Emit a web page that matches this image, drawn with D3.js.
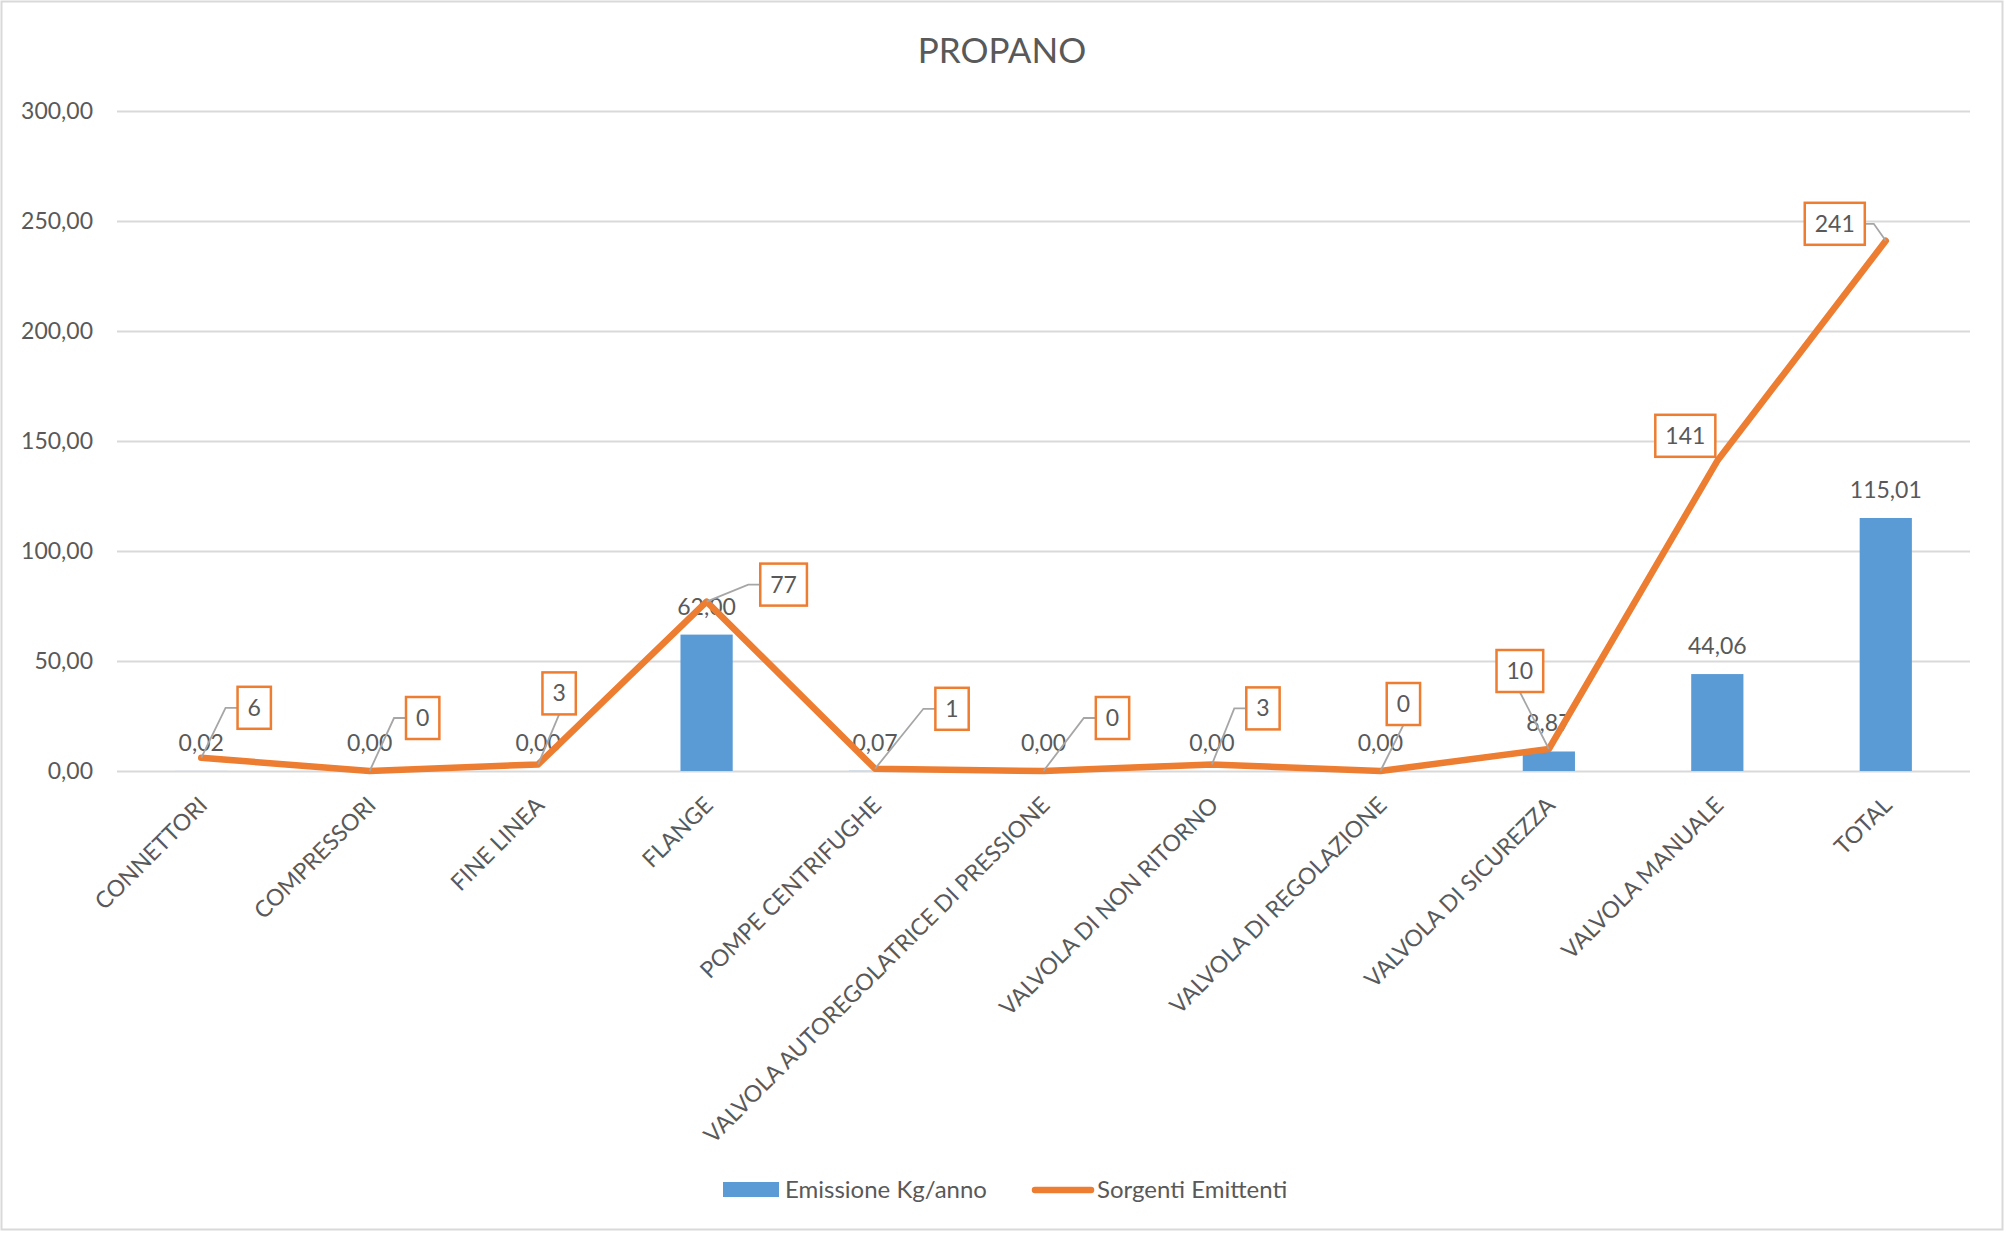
<!DOCTYPE html>
<html>
<head>
<meta charset="utf-8">
<script src="https://cdn.jsdelivr.net/npm/d3@7"></script>
<style>
  body { margin: 0; background: #fff; }
  text { font-family: Lato, "Open Sans", sans-serif; fill: #595959; }
</style>
</head>
<body>
<script>
const categories = ["CONNETTORI", "COMPRESSORI", "FINE LINEA", "FLANGE", "POMPE CENTRIFUGHE",
    "VALVOLA AUTOREGOLATRICE DI PRESSIONE", "VALVOLA DI NON RITORNO", "VALVOLA DI REGOLAZIONE",
    "VALVOLA DI SICUREZZA", "VALVOLA MANUALE", "TOTAL"];
const emissione = [0.02, 0.00, 0.00, 62.00, 0.07, 0.00, 0.00, 0.00, 8.87, 44.06, 115.01];
const sorgenti = [6, 0, 3, 77, 1, 0, 3, 0, 10, 141, 241];
const yTicks = [0, 50, 100, 150, 200, 250, 300];
const seriesNames = ["Emissione Kg/anno", "Sorgenti Emittenti"];

// where excel put the boxed labels of the line, relative to each point (px)
const boxOffsets = [[53, -50], [53, -53], [21, -71], [77, -17], [77, -60], [69, -53],
    [51, -56], [23, -67], [-29, -78], [-32, -25], [-51, -17]];

let w = 2006, h = 1234;
let blue = "#5B9BD5", orange = "#ED7D31";

const it = d3.formatLocale({decimal: ",", thousands: ".", grouping: [3], currency: ["", "€"]});
const fmt2 = it.format(".2f");

const svg = d3.select("body").append("svg")
    .attr("width", w)
    .attr("height", h);

// chart border
svg.append("rect")
    .attr("x", 1.5).attr("y", 1.5)
    .attr("width", w - 5).attr("height", h - 6)
    .attr("fill", "white")
    .attr("stroke", "#D9D9D9")
    .attr("stroke-width", 2);

const xScale = d3.scaleBand()
    .domain(categories)
    .range([117, 1970])
    .paddingInner(0.69)
    .paddingOuter(0.345);

const yScale = d3.scaleLinear()
    .domain([0, 300])
    .range([771, 111]);

const cx = (d) => xScale(d) + xScale.bandwidth() / 2;

svg.append("text")
    .attr("x", 1002)
    .attr("y", 63)
    .attr("text-anchor", "middle")
    .style("font-size", "35px")
    .text("PROPANO");

// y axis + gridlines
const yAxis = d3.axisLeft(yScale)
    .tickValues(yTicks)
    .tickFormat(fmt2)
    .tickSize(-(1970 - 117))
    .tickPadding(24);

svg.append("g")
    .attr("transform", "translate(117,0)")
    .call(yAxis)
    .call(g => g.select(".domain").remove())
    .call(g => g.selectAll(".tick line").attr("stroke", "#D9D9D9").attr("stroke-width", 2))
    .call(g => g.selectAll(".tick text").style("font-size", "23px").attr("fill", "#595959"));

// x labels, rotated
svg.append("g")
    .selectAll("text")
    .data(categories)
    .enter()
    .append("text")
    .attr("transform", (d) => "translate(" + (cx(d) + 2) + ",801) rotate(-45)")
    .attr("text-anchor", "end")
    .attr("dy", "0.35em")
    .style("font-size", "23px")
    .text((d) => d);

// bars
svg.append("g")
    .selectAll("rect")
    .data(emissione)
    .enter()
    .append("rect")
    .attr("x", (d, i) => xScale(categories[i]))
    .attr("y", (d) => yScale(d))
    .attr("width", xScale.bandwidth())
    .attr("height", (d) => yScale(0) - yScale(d))
    .attr("fill", blue);

svg.append("g")
    .selectAll("text")
    .data(emissione)
    .enter()
    .append("text")
    .attr("x", (d, i) => cx(categories[i]))
    .attr("y", (d) => yScale(d) - 20)
    .attr("text-anchor", "middle")
    .style("font-size", "23px")
    .text((d) => fmt2(d));

// line
const line = d3.line()
    .x((d, i) => cx(categories[i]))
    .y((d) => yScale(d));

svg.append("path")
    .datum(sorgenti)
    .attr("d", line)
    .attr("fill", "none")
    .attr("stroke", orange)
    .attr("stroke-width", 6.5)
    .attr("stroke-linejoin", "round")
    .attr("stroke-linecap", "round");

// boxed labels with leader lines
const leaders = svg.append("g");
const boxes = svg.append("g");

sorgenti.forEach(function (v, i) {
    let px = cx(categories[i]), py = yScale(v);
    let bx = px + boxOffsets[i][0], by = py + boxOffsets[i][1];

    let g = boxes.append("g");
    let rect = g.append("rect");
    let t = g.append("text")
        .attr("x", bx)
        .attr("y", by)
        .attr("dy", "0.35em")
        .attr("text-anchor", "middle")
        .style("font-size", "23px")
        .attr("fill", "#404040")
        .text(v);
    let bw = t.node().getComputedTextLength() + 20, bh = 42;
    rect.attr("x", bx - bw / 2).attr("y", by - bh / 2)
        .attr("width", bw).attr("height", bh)
        .attr("fill", "white")
        .attr("stroke", orange)
        .attr("stroke-width", 2.5);

    let dx = boxOffsets[i][0];
    let gap = Math.abs(dx) - bw / 2;
    let pts;
    if (Math.abs(dx) < bw / 2 + 4 && Math.abs(boxOffsets[i][1]) < bh / 2 + 10) {
        pts = null; // too close, excel drops the leader
    } else if (gap > 8) {
        let edge = dx > 0 ? bx - bw / 2 : bx + bw / 2;
        let elbow = dx > 0 ? edge - 12 : edge + 9;
        pts = [[px, py], [elbow, by], [edge, by]];
    } else {
        pts = [[px, py], [bx, by + bh / 2]];
    }
    if (pts) {
        leaders.append("path")
            .attr("d", d3.line()(pts))
            .attr("fill", "none")
            .attr("stroke", "#A6A6A6")
            .attr("stroke-width", 1.8);
    }
});

// legend
const legend = svg.append("g").attr("id", "legend");
legend.append("rect")
    .attr("x", 723).attr("y", 1182)
    .attr("width", 56).attr("height", 15)
    .attr("fill", blue);
legend.append("text")
    .attr("x", 785).attr("y", 1190)
    .attr("dy", "0.35em")
    .style("font-size", "24px")
    .text(seriesNames[0]);
legend.append("line")
    .attr("x1", 1035).attr("x2", 1091)
    .attr("y1", 1190).attr("y2", 1190)
    .attr("stroke", orange)
    .attr("stroke-width", 6.5)
    .attr("stroke-linecap", "round");
legend.append("text")
    .attr("x", 1097).attr("y", 1190)
    .attr("dy", "0.35em")
    .style("font-size", "24px")
    .text(seriesNames[1]);
</script>
</body>
</html>
